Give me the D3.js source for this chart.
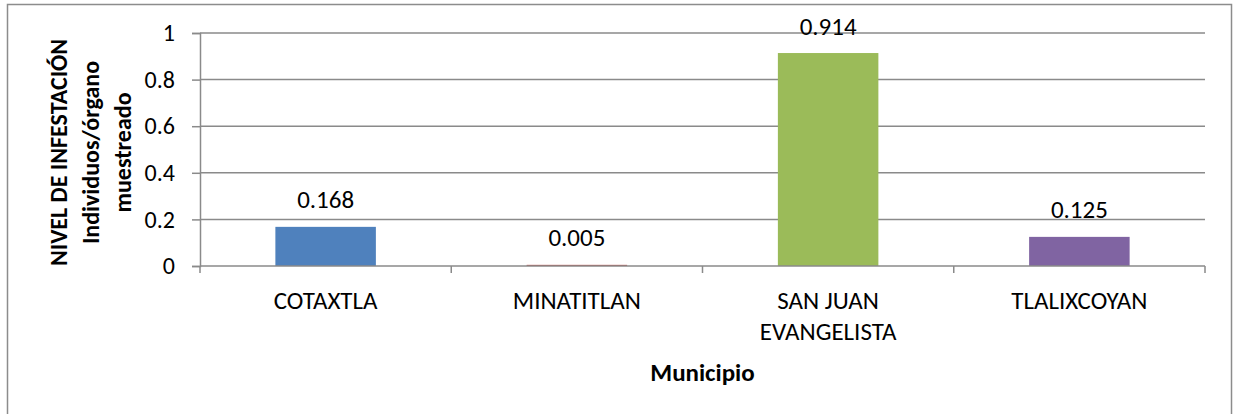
<!DOCTYPE html>
<html>
<head>
<meta charset="utf-8">
<script src="https://cdn.jsdelivr.net/npm/d3@7"></script>
<style>
  body { margin: 0; background: #fff; }
  svg text { font-family: Calibri, Carlito, Lato, sans-serif; fill: #000; }
</style>
</head>
<body>
<div id="chart"></div>
<script>
// data
var municipios = [["COTAXTLA"], ["MINATITLAN"], ["SAN JUAN", "EVANGELISTA"], ["TLALIXCOYAN"]];
var valores = [0.168, 0.005, 0.914, 0.125];
var colores = ["#4F81BD", "#C0504D", "#9BBB59", "#8064A2"];
var yTicks = [0, 0.2, 0.4, 0.6, 0.8, 1];
var yTitulo = ["NIVEL DE INFESTACIÓN", "Individuos/órgano", "muestreado"];
var xTitulo = "Municipio";

var W = 1233, H = 414;
var plot = {left: 200, right: 1205, top: 33, bottom: 266};

var svg = d3.select("#chart").append("svg")
  .attr("width", W).attr("height", H);

// outer chart border
svg.append("rect")
  .attr("x", 7.5).attr("y", 4.5)
  .attr("width", 1224).attr("height", 430)
  .attr("fill", "#fff")
  .attr("stroke", "#8c8c8c").attr("stroke-width", 1.5);

var keys = municipios.map(function(d) { return d.join(" "); });

var x = d3.scaleBand()
  .domain(keys)
  .range([plot.left, plot.right])
  .paddingInner(0.6)
  .paddingOuter(0.3);

var xEdge = d3.scaleLinear().domain([0, keys.length]).range([plot.left, plot.right]);

var y = d3.scaleLinear()
  .domain([0, 1])
  .range([plot.bottom, plot.top]);

// gridlines
svg.append("g")
  .selectAll("line")
  .data(yTicks.filter(function(d) { return d > 0; }))
  .enter().append("line")
  .attr("x1", plot.left).attr("x2", plot.right)
  .attr("y1", function(d) { return y(d); })
  .attr("y2", function(d) { return y(d); })
  .attr("stroke", "#8a8a8a").attr("stroke-width", 1.5);

// y axis
var yAxis = svg.append("g")
  .attr("transform", "translate(" + plot.left + ",0)")
  .call(d3.axisLeft(y).tickValues(yTicks).tickSize(8).tickPadding(17)
    .tickFormat(function(d) { return d3.format("")(+d.toFixed(1)); }));
yAxis.select(".domain").attr("stroke", "#8a8a8a").attr("stroke-width", 1.5);
yAxis.selectAll(".tick line").attr("stroke", "#8a8a8a").attr("stroke-width", 1.5);
yAxis.selectAll(".tick text").style("font-size", "24px").style("font-family", null);

// bars
svg.append("g")
  .selectAll("rect")
  .data(valores)
  .enter().append("rect")
  .attr("x", function(d, i) { return x(keys[i]); })
  .attr("width", x.bandwidth())
  .attr("y", function(d) { return y(d); })
  .attr("height", function(d) { return y(0) - y(d); })
  .attr("fill", function(d, i) { return colores[i]; });

// x axis line and ticks at category boundaries
svg.append("line")
  .attr("x1", plot.left).attr("x2", plot.right)
  .attr("y1", plot.bottom).attr("y2", plot.bottom)
  .attr("stroke", "#8a8a8a").attr("stroke-width", 1.5);
svg.append("g")
  .selectAll("line")
  .data(d3.range(keys.length + 1))
  .enter().append("line")
  .attr("x1", function(d) { return xEdge(d); })
  .attr("x2", function(d) { return xEdge(d); })
  .attr("y1", plot.bottom).attr("y2", plot.bottom + 7)
  .attr("stroke", "#8a8a8a").attr("stroke-width", 1.5);

// value labels
svg.append("g")
  .selectAll("text")
  .data(valores)
  .enter().append("text")
  .attr("x", function(d, i) { return x(keys[i]) + x.bandwidth() / 2; })
  .attr("y", function(d) { return y(d) - 27; })
  .attr("text-anchor", "middle")
  .attr("dominant-baseline", "central")
  .style("font-size", "25px")
  .text(function(d) { return d3.format(".3f")(d); });

// category labels
var cat = svg.append("g")
  .selectAll("text")
  .data(municipios)
  .enter().append("text")
  .attr("x", function(d, i) { return x(keys[i]) + x.bandwidth() / 2; })
  .attr("y", 300)
  .attr("text-anchor", "middle")
  .attr("dominant-baseline", "central")
  .style("font-size", "25px");
cat.selectAll("tspan")
  .data(function(d) { return d; })
  .enter().append("tspan")
  .attr("x", function() { return d3.select(this.parentNode).attr("x"); })
  .attr("dy", function(d, i) { return i === 0 ? 0 : 31; })
  .text(function(d) { return d; });

// x title
svg.append("text")
  .attr("x", (plot.left + plot.right) / 2)
  .attr("y", 372)
  .attr("text-anchor", "middle")
  .attr("dominant-baseline", "central")
  .style("font-size", "25px").style("font-weight", "bold")
  .text(xTitulo);

// y title, three rotated lines
svg.append("g")
  .selectAll("text")
  .data(yTitulo)
  .enter().append("text")
  .attr("transform", function(d, i) {
    return "translate(" + (58 + i * 32) + "," + (((plot.top + plot.bottom) / 2) + 3) + ") rotate(-90)";
  })
  .attr("text-anchor", "middle")
  .attr("dominant-baseline", "central")
  .style("font-size", "24px").style("font-weight", "bold")
  .text(function(d) { return d; });
</script>
</body>
</html>
